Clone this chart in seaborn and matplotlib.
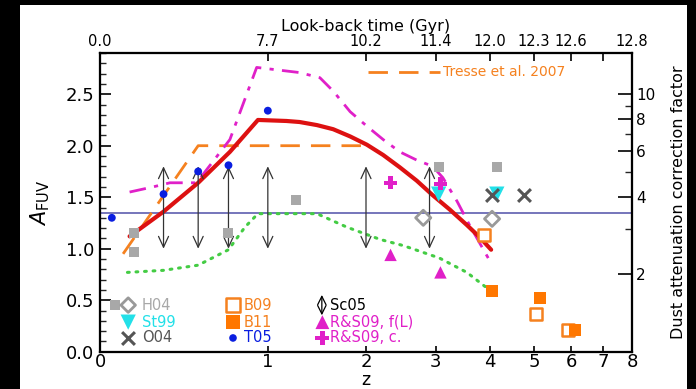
import numpy as np
import matplotlib
matplotlib.use("Agg")
import matplotlib.pyplot as plt
import seaborn as sns
from matplotlib.patches import Rectangle
from matplotlib.ticker import FixedLocator, FixedFormatter, NullFormatter, MultipleLocator, FormatStrFormatter

# ---------------- data ----------------
red_z = [0.13, 0.30, 0.50, 0.71, 0.92, 1.16, 1.28, 1.45, 1.62, 1.81, 2.01, 2.22, 2.45, 2.70, 2.95,
         3.24, 3.55, 3.80, 4.03]
red_A = [1.12, 1.36, 1.64, 1.94, 2.25, 2.24, 2.23, 2.20, 2.16, 2.09, 2.01, 1.91, 1.79, 1.66, 1.52,
         1.38, 1.23, 1.11, 0.99]

mag_z = [0.13, 0.245, 0.335, 0.49, 0.71, 0.91, 1.28, 1.48, 1.62, 1.81, 2.01, 2.22, 2.45, 2.70, 2.95,
         3.12, 3.37, 3.60, 3.85, 4.03]
mag_A = [1.55, 1.60, 1.64, 1.64, 2.06, 2.76, 2.71, 2.66, 2.53, 2.33, 2.19, 2.06, 1.94, 1.86, 1.80,
         1.69, 1.46, 1.23, 1.01, 0.86]

tresse_z = [0.10, 0.50, 1.95]
tresse_A = [0.95, 2.00, 2.00]

green_z = [0.12, 0.30, 0.50, 0.70, 0.82, 0.92, 1.45, 1.77, 2.18, 2.50, 3.06, 3.55, 3.94]
green_A = [0.77, 0.79, 0.84, 0.99, 1.21, 1.34, 1.34, 1.21, 1.09, 1.03, 0.91, 0.77, 0.62]

ref_level = 1.35

sc05_z = [0.3, 0.5, 0.7, 1.0, 2.0, 2.9]
sc05_lo = 1.0
sc05_hi = 1.8

t05_z = [0.05, 0.30, 0.50, 0.70, 1.00]
t05_A = [1.30, 1.53, 1.75, 1.81, 2.34]

h04_sq_z = [0.15, 0.15, 0.70, 1.25, 3.05, 4.15]
h04_sq_A = [1.15, 0.97, 1.15, 1.47, 1.79, 1.79]
h04_di_z = [2.80, 4.05]
h04_di_A = [1.30, 1.29]

st99_z = [3.05, 4.15]
st99_A = [1.53, 1.53]

o04_z = [4.05, 4.75]
o04_A = [1.52, 1.52]

b09_z = [3.88, 5.05, 5.90]
b09_A = [1.13, 0.37, 0.21]

b11_z = [4.05, 5.15, 6.10]
b11_A = [0.59, 0.52, 0.21]

rs09f_z = [2.32, 3.08]
rs09f_A = [0.94, 0.77]
rs09c_z = [2.32, 3.08]
rs09c_A = [1.64, 1.63]

z_ticks = [0, 1, 2, 3, 4, 5, 6, 7, 8]
lookback_labels = ["0.0", "7.7", "10.2", "11.4", "12.0", "12.3", "12.6", "", "12.8"]
corr_ticks = [2, 4, 6, 8, 10]
corr_minor = [3, 5, 7, 9]

# ---------------- colours ----------------
C_RED = "#dd1111"
C_MAG = "#e020c8"
C_ORA = "#f5811f"
C_GRN = "#44cc44"
C_BLU = "#5050a8"
C_GRY = "#a8a8a8"
C_CYN = "#22e0e8"
C_DGR = "#555555"
C_T05 = "#0a1ee0"

sns.set_theme(style="white")
plt.rcParams["font.family"] = ["DejaVu Sans"]

fig = plt.figure(figsize=(6.96, 3.89), dpi=100)
fig.patch.set_facecolor("black")
fig.add_artist(Rectangle((20 / 696, 0), 667 / 696, 384 / 389, transform=fig.transFigure,
                         facecolor="white", edgecolor="none", zorder=-10))

ax = fig.add_axes([100 / 696, 1 - 351.7 / 389, 532 / 696, 298.7 / 389])
ax.set_facecolor("white")

fwd = lambda z: np.log10(1 + np.clip(np.asarray(z, dtype=float), -0.999, None))
inv = lambda u: 10 ** np.asarray(u, dtype=float) - 1
ax.set_xscale("function", functions=(fwd, inv))
ax.set_xlim(0, 8)
ax.set_ylim(0, 2.9)

# reference horizontal line
ax.axhline(ref_level, color=C_BLU, lw=1.1, zorder=1)

# lines
sns.lineplot(x=green_z, y=green_A, ax=ax, color=C_GRN, lw=2.2, sort=False, estimator=None,
             linestyle=(0, (0.6, 2.2)), dash_capstyle="round", zorder=2)
sns.lineplot(x=tresse_z, y=tresse_A, ax=ax, color=C_ORA, lw=2.0, sort=False, estimator=None,
             linestyle=(0, (7, 4)), zorder=3)
sns.lineplot(x=mag_z, y=mag_A, ax=ax, color=C_MAG, lw=2.0, sort=False, estimator=None,
             linestyle=(0, (6, 3, 1.5, 3)), zorder=3)
sns.lineplot(x=red_z, y=red_A, ax=ax, color=C_RED, lw=3.0, sort=False, estimator=None, zorder=4)

# Sc05 double arrows
arrow_kw = dict(arrowstyle="<->,head_length=0.65,head_width=0.3", lw=0.9, color="#333333",
                shrinkA=0, shrinkB=0)
for zz in sc05_z:
    ax.annotate("", xy=(zz, sc05_hi), xytext=(zz, sc05_lo), arrowprops=arrow_kw, zorder=4)

# markers
sns.scatterplot(x=h04_sq_z, y=h04_sq_A, ax=ax, marker="s", s=52, color=C_GRY, edgecolor="none",
                legend=False, zorder=5)
sns.scatterplot(x=h04_di_z, y=h04_di_A, ax=ax, marker="D", s=60, color="#999999",
                facecolor="none", edgecolor="#999999", linewidth=2, legend=False, zorder=5)
sns.scatterplot(x=st99_z, y=st99_A, ax=ax, marker="v", s=120, color=C_CYN, edgecolor="none",
                legend=False, zorder=5)
sns.scatterplot(x=o04_z, y=o04_A, ax=ax, marker="x", s=85, color=C_DGR, linewidth=2.2,
                legend=False, zorder=5)
sns.scatterplot(x=b09_z, y=b09_A, ax=ax, marker="s", s=70, color=C_ORA, facecolor="white",
                edgecolor=C_ORA, linewidth=1.8, legend=False, zorder=5)
sns.scatterplot(x=b11_z, y=b11_A, ax=ax, marker="s", s=74, color="#ff7700", edgecolor="none",
                legend=False, zorder=5)
sns.scatterplot(x=t05_z, y=t05_A, ax=ax, marker="o", s=32, color=C_T05, edgecolor="none",
                legend=False, zorder=6)
sns.scatterplot(x=rs09f_z, y=rs09f_A, ax=ax, marker="^", s=80, color=C_MAG, edgecolor="none",
                legend=False, zorder=5)
sns.scatterplot(x=rs09c_z, y=rs09c_A, ax=ax, marker="P", s=85, color=C_MAG, edgecolor="none",
                legend=False, zorder=6)

# ---------------- axes styling ----------------
for sp in ax.spines.values():
    sp.set_color("black")
    sp.set_linewidth(1.5)

ax.xaxis.set_major_locator(FixedLocator(z_ticks))
ax.xaxis.set_major_formatter(FixedFormatter([str(t) for t in z_ticks]))
ax.xaxis.set_minor_locator(FixedLocator([]))
ax.yaxis.set_major_locator(MultipleLocator(0.5))
ax.yaxis.set_minor_locator(MultipleLocator(0.1))
ax.yaxis.set_major_formatter(FormatStrFormatter("%.1f"))
ax.tick_params(axis="x", which="major", direction="in", length=4, width=1.2, labelsize=13,
               pad=1, top=False, colors="black")
ax.tick_params(axis="y", which="major", direction="in", length=8, width=1.2, labelsize=13,
               pad=4, right=False, colors="black")
ax.tick_params(axis="y", which="minor", direction="in", length=4, width=1.0, right=False, left=True)
ax.set_xlabel("z", fontsize=12.5, labelpad=0, color="black")
ax.set_ylabel(r"$A_{\mathrm{FUV}}$", fontsize=15, labelpad=10, color="black")

# top axis: look-back time
ax2 = ax.twiny()
ax2.set_xscale("function", functions=(fwd, inv))
ax2.set_xlim(0, 8)
ax2.xaxis.set_major_locator(FixedLocator(z_ticks))
ax2.xaxis.set_major_formatter(FixedFormatter(lookback_labels))
ax2.xaxis.set_minor_locator(FixedLocator([]))
ax2.tick_params(axis="x", which="major", direction="in", length=6, width=1.2, labelsize=10.5, pad=3,
                colors="black")
ax2.set_xlabel("Look-back time (Gyr)", fontsize=11.5, labelpad=2, color="black")
ax2.grid(False)

# right axis: dust attenuation correction factor
ax3 = ax.twinx()
ax3.set_yscale("log")
ax3.set_ylim(1, 10 ** (0.4 * 2.9))
ax3.yaxis.set_major_locator(FixedLocator(corr_ticks))
ax3.yaxis.set_major_formatter(FixedFormatter([str(t) for t in corr_ticks]))
ax3.yaxis.set_minor_locator(FixedLocator(corr_minor))
ax3.yaxis.set_minor_formatter(NullFormatter())
ax3.tick_params(axis="y", which="major", direction="in", length=10, width=1.2, labelsize=11, pad=3,
                colors="black")
ax3.tick_params(axis="y", which="minor", direction="in", length=5, width=1.0)
ax3.set_ylabel("Dust attenuation correction factor", fontsize=11.5, labelpad=11, color="black")
ax3.grid(False)
for a in [ax2, ax3]:
    for sp in a.spines.values():
        sp.set_color("black")
        sp.set_linewidth(1.5)

# ---------------- legend (drawn inside axes) ----------------
T = ax.transAxes
def lm(x, y, **kw):
    ax.scatter([x], [y], transform=T, clip_on=False, zorder=7, **kw)

fs = 10.5
# column 1
lm(0.028, 0.156, marker="s", s=52, color=C_GRY, edgecolor="none")
lm(0.053, 0.156, marker="D", s=55, facecolor="none", edgecolor="#999999", linewidth=2)
ax.text(0.079, 0.156, "H04", transform=T, color=C_GRY, fontsize=fs, va="center", ha="left")
lm(0.053, 0.099, marker="v", s=120, color=C_CYN, edgecolor="none")
ax.text(0.079, 0.099, "St99", transform=T, color=C_CYN, fontsize=fs, va="center", ha="left")
lm(0.053, 0.046, marker="x", s=85, color=C_DGR, linewidth=2.2)
ax.text(0.079, 0.046, "O04", transform=T, color=C_DGR, fontsize=fs, va="center", ha="left")
# column 2
lm(0.250, 0.156, marker="s", s=90, facecolor="white", edgecolor=C_ORA, linewidth=1.8)
ax.text(0.270, 0.156, "B09", transform=T, color=C_ORA, fontsize=fs, va="center", ha="left")
lm(0.250, 0.099, marker="s", s=100, color="#ff7700", edgecolor="none")
ax.text(0.270, 0.099, "B11", transform=T, color=C_ORA, fontsize=fs, va="center", ha="left")
lm(0.250, 0.046, marker="o", s=30, color=C_T05, edgecolor="none")
ax.text(0.270, 0.046, "T05", transform=T, color=C_T05, fontsize=fs, va="center", ha="left")
# column 3
ax.annotate("", xy=(0.417, 0.19), xytext=(0.417, 0.122), xycoords=T, textcoords=T,
            arrowprops=dict(arrowstyle="<->,head_length=0.5,head_width=0.25", lw=0.9, color="black",
                            shrinkA=0, shrinkB=0))
ax.text(0.432, 0.156, "Sc05", transform=T, color="black", fontsize=fs, va="center", ha="left")
lm(0.418, 0.099, marker="^", s=100, color=C_MAG, edgecolor="none")
ax.text(0.432, 0.099, "R&S09, f(L)", transform=T, color=C_MAG, fontsize=fs, va="center", ha="left")
lm(0.418, 0.046, marker="P", s=100, color=C_MAG, edgecolor="none")
ax.text(0.432, 0.046, "R&S09, c.", transform=T, color=C_MAG, fontsize=fs, va="center", ha="left")
# Tresse
ax.plot([0.504, 0.639], [0.936, 0.936], transform=T, color=C_ORA, lw=2.0, linestyle=(0, (7, 4)),
        clip_on=False)
ax.text(0.645, 0.936, "Tresse et al. 2007", transform=T, color=C_ORA, fontsize=10, va="center",
        ha="left")

fig.savefig("out.png", dpi=100, facecolor=fig.get_facecolor())
